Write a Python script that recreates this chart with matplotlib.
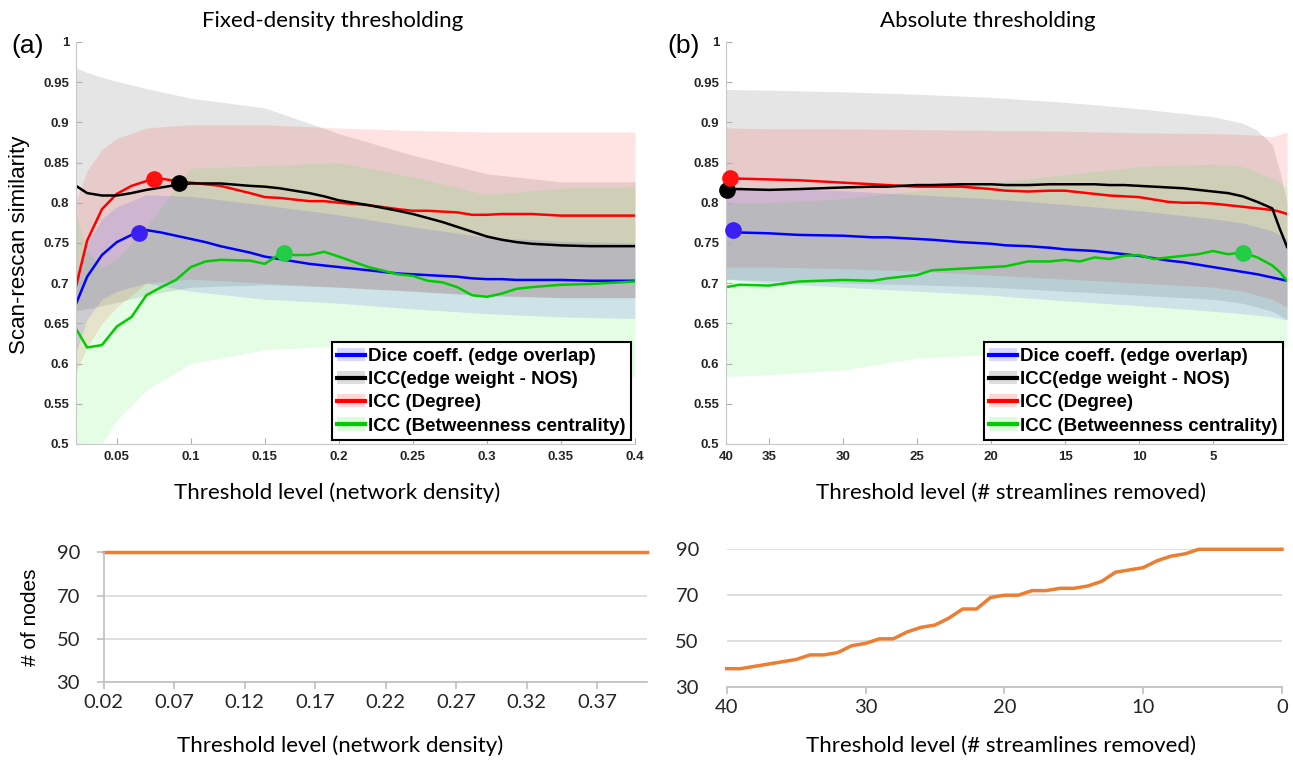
import numpy as np
import matplotlib
matplotlib.use("Agg")
import matplotlib.pyplot as plt
from matplotlib.patches import Patch
from matplotlib.lines import Line2D
from matplotlib.ticker import FormatStrFormatter

# ---- (a) fixed-density thresholding: mean curves
fd_x = [0.02, 0.03, 0.04, 0.05, 0.06, 0.07, 0.08, 0.09, 0.10, 0.11, 0.12, 0.14, 0.15, 0.16,
        0.17, 0.18, 0.19, 0.20, 0.22, 0.24, 0.25, 0.26, 0.27, 0.28, 0.29, 0.30, 0.31, 0.32,
        0.33, 0.35, 0.37, 0.40]
fd_dice = [0.663, 0.708, 0.735, 0.751, 0.760, 0.766, 0.763, 0.759, 0.755, 0.751, 0.746, 0.738,
           0.733, 0.730, 0.727, 0.724, 0.722, 0.720, 0.716, 0.712, 0.711, 0.710, 0.709, 0.708,
           0.706, 0.705, 0.705, 0.704, 0.704, 0.704, 0.703, 0.703]
fd_nos = [0.824, 0.812, 0.809, 0.809, 0.812, 0.816, 0.819, 0.822, 0.824, 0.824, 0.824, 0.821,
          0.820, 0.818, 0.815, 0.812, 0.808, 0.803, 0.797, 0.790, 0.786, 0.781, 0.776, 0.770,
          0.764, 0.758, 0.754, 0.751, 0.749, 0.747, 0.746, 0.746]
fd_deg = [0.677, 0.753, 0.792, 0.811, 0.821, 0.827, 0.830, 0.827, 0.825, 0.823, 0.821, 0.812,
          0.807, 0.806, 0.804, 0.802, 0.802, 0.800, 0.797, 0.792, 0.790, 0.790, 0.789, 0.788,
          0.785, 0.785, 0.786, 0.786, 0.786, 0.784, 0.784, 0.784]
fd_btw = [0.651, 0.620, 0.623, 0.646, 0.658, 0.685, 0.695, 0.704, 0.720, 0.727, 0.729, 0.728,
          0.724, 0.736, 0.735, 0.735, 0.739, 0.733, 0.720, 0.711, 0.709, 0.703, 0.701, 0.695,
          0.685, 0.683, 0.687, 0.693, 0.695, 0.698, 0.699, 0.702]
# peaks (x, y) for dice, nos, degree, betweenness
fd_peak_x = [0.065, 0.092, 0.075, 0.163]
fd_peak_y = [0.762, 0.824, 0.830, 0.737]

# (a) shaded ranges
fd_bx = [0.02, 0.03, 0.04, 0.05, 0.07, 0.10, 0.15, 0.20, 0.25, 0.30, 0.35, 0.40]
fd_nos_hi = [0.970, 0.962, 0.956, 0.951, 0.942, 0.930, 0.918, 0.886, 0.859, 0.836, 0.826, 0.826]
fd_nos_lo = [0.665, 0.668, 0.672, 0.676, 0.685, 0.695, 0.698, 0.695, 0.690, 0.684, 0.682, 0.682]
fd_deg_hi = [0.790, 0.840, 0.866, 0.880, 0.893, 0.897, 0.897, 0.893, 0.890, 0.888, 0.888, 0.888]
fd_deg_lo = [0.580, 0.620, 0.650, 0.670, 0.700, 0.705, 0.700, 0.695, 0.690, 0.685, 0.682, 0.682]
fd_btw_hi = [0.800, 0.740, 0.720, 0.730, 0.770, 0.843, 0.846, 0.850, 0.832, 0.810, 0.818, 0.820]
fd_btw_lo = [0.450, 0.470, 0.500, 0.530, 0.567, 0.600, 0.617, 0.622, 0.620, 0.610, 0.595, 0.584]
fd_dice_hi = [0.700, 0.750, 0.780, 0.795, 0.810, 0.808, 0.797, 0.785, 0.770, 0.757, 0.752, 0.750]
fd_dice_lo = [0.600, 0.655, 0.680, 0.690, 0.700, 0.690, 0.680, 0.675, 0.668, 0.662, 0.658, 0.656]

# ---- (b) absolute thresholding (streamlines removed)
ab_x = [37.9, 37, 35, 33, 30, 28, 27, 25, 24, 22, 20, 19, 17.5, 16, 15, 14, 13, 12, 11, 10,
        9, 8, 7, 6, 5, 4, 3, 2, 1, 0.5, 0]
ab_dice = [0.764, 0.763, 0.762, 0.760, 0.759, 0.757, 0.757, 0.755, 0.754, 0.751, 0.749, 0.747,
           0.746, 0.744, 0.742, 0.741, 0.740, 0.738, 0.736, 0.734, 0.731, 0.728, 0.726, 0.723,
           0.720, 0.717, 0.714, 0.711, 0.707, 0.705, 0.703]
ab_nos = [0.817, 0.817, 0.816, 0.817, 0.819, 0.820, 0.820, 0.822, 0.822, 0.823, 0.823, 0.822,
          0.822, 0.823, 0.823, 0.823, 0.823, 0.822, 0.822, 0.821, 0.820, 0.819, 0.818, 0.816,
          0.814, 0.812, 0.808, 0.801, 0.793, 0.768, 0.745]
ab_deg = [0.830, 0.830, 0.829, 0.828, 0.825, 0.823, 0.822, 0.820, 0.820, 0.820, 0.817, 0.815,
          0.814, 0.815, 0.815, 0.813, 0.811, 0.809, 0.808, 0.807, 0.804, 0.801, 0.800, 0.800,
          0.799, 0.797, 0.795, 0.793, 0.791, 0.789, 0.786]
ab_btw = [0.695, 0.698, 0.697, 0.702, 0.704, 0.703, 0.706, 0.710, 0.716, 0.718, 0.720, 0.721,
          0.727, 0.727, 0.729, 0.727, 0.732, 0.730, 0.734, 0.735, 0.730, 0.732, 0.734, 0.736,
          0.740, 0.736, 0.738, 0.732, 0.722, 0.714, 0.703]
ab_peak_x = [37.4, 37.8, 37.6, 3.0]
ab_peak_y = [0.766, 0.816, 0.831, 0.738]

ab_bx = [37.9, 35, 30, 25, 20, 15, 10, 5, 3, 2, 1, 0.5, 0]
ab_nos_hi = [0.941, 0.940, 0.938, 0.935, 0.931, 0.925, 0.917, 0.907, 0.899, 0.890, 0.872, 0.840, 0.800]
ab_nos_lo = [0.705, 0.703, 0.700, 0.698, 0.695, 0.690, 0.685, 0.680, 0.675, 0.670, 0.665, 0.660, 0.655]
ab_deg_hi = [0.893, 0.892, 0.892, 0.891, 0.890, 0.889, 0.887, 0.886, 0.885, 0.884, 0.882, 0.885, 0.888]
ab_deg_lo = [0.720, 0.720, 0.718, 0.715, 0.710, 0.705, 0.700, 0.695, 0.690, 0.685, 0.680, 0.675, 0.670]
ab_btw_hi = [0.800, 0.800, 0.805, 0.815, 0.825, 0.835, 0.845, 0.848, 0.845, 0.838, 0.830, 0.825, 0.820]
ab_btw_lo = [0.584, 0.586, 0.592, 0.607, 0.611, 0.613, 0.615, 0.620, 0.620, 0.620, 0.620, 0.620, 0.620]
ab_dice_hi = [0.820, 0.818, 0.815, 0.810, 0.805, 0.798, 0.790, 0.780, 0.775, 0.770, 0.765, 0.760, 0.755]
ab_dice_lo = [0.705, 0.700, 0.695, 0.690, 0.685, 0.678, 0.672, 0.665, 0.662, 0.660, 0.658, 0.656, 0.654]
ab_ticks = [37.9, 35, 30, 25, 20, 15, 10, 5]
ab_ticklabels = ['40', '35', '30', '25', '20', '15', '10', '5']

# ---- number of nodes
nd_density = [0.02, 0.03, 0.04, 0.05, 0.06, 0.07, 0.08, 0.09, 0.10, 0.11, 0.12, 0.13, 0.14,
              0.15, 0.16, 0.17, 0.18, 0.19, 0.20, 0.21, 0.22, 0.23, 0.24, 0.25, 0.26, 0.27,
              0.28, 0.29, 0.30, 0.31, 0.32, 0.33, 0.34, 0.35, 0.36, 0.37, 0.38, 0.39, 0.40, 0.405]
nd_density_nodes = [90, 90, 90, 90, 90, 90, 90, 90, 90, 90, 90, 90, 90, 90, 90, 90, 90, 90, 90,
                    90, 90, 90, 90, 90, 90, 90, 90, 90, 90, 90, 90, 90, 90, 90, 90, 90, 90, 90,
                    90, 90]
nd_removed = [40, 39, 38, 37, 36, 35, 34, 33, 32, 31, 30, 29, 28, 27, 26, 25, 24, 23, 22, 21,
              20, 19, 18, 17, 16, 15, 14, 13, 12, 11, 10, 9, 8, 7, 6, 5, 4, 3, 2, 1, 0]
nd_removed_nodes = [38, 38, 39, 40, 41, 42, 44, 44, 45, 48, 49, 51, 51, 54, 56, 57, 60, 64, 64,
                    69, 70, 70, 72, 72, 73, 73, 74, 76, 80, 81, 82, 85, 87, 88, 90, 90, 90, 90,
                    90, 90, 90]

labels = ['Dice coeff. (edge overlap)', 'ICC(edge weight - NOS)', 'ICC (Degree)',
          'ICC (Betweenness centrality)']
line_cols = ['#0000ff', '#000000', '#ff0000', '#00cc00']
peak_cols = ['#3a1ff0', '#000000', '#ff1010', '#22cc44']
band_cols = [(0, 0, 1), (0.45, 0.45, 0.45), (1, 0, 0), (0, 0.95, 0)]
band_alpha = [0.10, 0.18, 0.11, 0.10]

CAL = 'Lato'
ARIAL = 'Liberation Sans'

fig = plt.figure(figsize=(12.93, 7.61), dpi=100)


def top_panel(ax, x, lines, bx, bands, px, py):
    # shaded ranges: nos, degree, betweenness, dice
    for i in [1, 2, 3, 0]:
        lo, hi = bands[i]
        ax.fill_between(bx, lo, hi, color=band_cols[i], alpha=band_alpha[i], lw=0)
    for i in [0, 3, 2, 1]:
        ax.plot(x, lines[i], color=line_cols[i], lw=1.8)
    for i in range(4):
        ax.plot(px[i], py[i], 'o', color=peak_cols[i], ms=11, clip_on=False, zorder=5)
    ax.set_ylim(0.5, 1)
    ax.set_yticks(np.arange(0.5, 1.001, 0.05))
    ax.yaxis.set_major_formatter(FormatStrFormatter('%g'))
    for s in ['top', 'right']:
        ax.spines[s].set_visible(False)
    for s in ['left', 'bottom']:
        ax.spines[s].set_color('#c8c8c8')
    ax.tick_params(direction='in', length=4, color='#b0b0b0', labelsize=9.5,
                   labelcolor='#262626', pad=5)
    for t in ax.get_xticklabels() + ax.get_yticklabels():
        t.set_fontweight('bold')
        t.set_fontfamily(ARIAL)
    handles = [(Patch(facecolor=band_cols[i], alpha=band_alpha[i] + 0.05, lw=0),
                Line2D([], [], color=line_cols[i], lw=3)) for i in range(4)]
    leg = ax.legend(handles, labels, loc='lower right', bbox_to_anchor=(1.0, 0.0),
                    borderaxespad=0.2, fancybox=False, framealpha=1, edgecolor='black',
                    handlelength=1.5, handletextpad=0.15, borderpad=0.3, labelspacing=0.32,
                    prop={'family': ARIAL, 'weight': 'bold', 'size': 13.5})
    leg.get_frame().set_linewidth(1.5)


ax1 = fig.add_axes([0.0588, 0.4166, 0.4323, 0.5283])
top_panel(ax1, fd_x, [fd_dice, fd_nos, fd_deg, fd_btw], fd_bx,
          [(fd_dice_lo, fd_dice_hi), (fd_nos_lo, fd_nos_hi), (fd_deg_lo, fd_deg_hi),
           (fd_btw_lo, fd_btw_hi)], fd_peak_x, fd_peak_y)
ax1.set_xlim(0.0225, 0.4)
ax1.set_xticks(np.arange(0.05, 0.401, 0.05))
ax1.xaxis.set_major_formatter(FormatStrFormatter('%g'))
for t in ax1.get_xticklabels():
    t.set_fontweight('bold')
    t.set_fontfamily(ARIAL)

ax2 = fig.add_axes([0.5615, 0.4166, 0.4339, 0.5283])
top_panel(ax2, ab_x, [ab_dice, ab_nos, ab_deg, ab_btw], ab_bx,
          [(ab_dice_lo, ab_dice_hi), (ab_nos_lo, ab_nos_hi), (ab_deg_lo, ab_deg_hi),
           (ab_btw_lo, ab_btw_hi)], ab_peak_x, ab_peak_y)
ax2.set_xlim(37.9, 0)
ax2.set_xticks(ab_ticks)
ax2.set_xticklabels(ab_ticklabels, fontweight='bold', fontfamily=ARIAL)

fig.text(0.257, 0.972, 'Fixed-density thresholding', ha='center', va='center',
         fontsize=16, family=CAL)
fig.text(0.764, 0.972, 'Absolute thresholding', ha='center', va='center',
         fontsize=16, family=CAL)
fig.text(0.009, 0.94, '(a)', ha='left', va='center', fontsize=19, family=ARIAL)
fig.text(0.516, 0.94, '(b)', ha='left', va='center', fontsize=19, family=ARIAL)
fig.text(0.015, 0.678, 'Scan-rescan similarity', rotation=90, ha='center', va='center',
         fontsize=16, family=ARIAL)
fig.text(0.261, 0.353, 'Threshold level (network density)', ha='center', va='center',
         fontsize=16, family=CAL)
fig.text(0.782, 0.353, 'Threshold level (# streamlines removed)', ha='center', va='center',
         fontsize=16, family=CAL)

orange = '#ed7d31'


def bottom_panel(ax):
    ax.set_ylim(30, 90)
    ax.set_yticks([30, 50, 70, 90])
    ax.grid(axis='y', color='#d9d9d9', lw=1.2)
    ax.set_axisbelow(True)
    for s in ['top', 'right']:
        ax.spines[s].set_visible(False)
    for s in ['left', 'bottom']:
        ax.spines[s].set_color('#bfbfbf')
        ax.spines[s].set_linewidth(1.2)
    ax.tick_params(direction='out', length=5, color='#bfbfbf', labelsize=14.5,
                   labelcolor='#262626', width=1.2)
    for t in ax.get_xticklabels() + ax.get_yticklabels():
        t.set_fontfamily(CAL)


ax3 = fig.add_axes([0.0801, 0.1034, 0.4199, 0.1708])
ax3.plot(nd_density, nd_density_nodes, color=orange, lw=2.5, clip_on=False)
ax3.set_xlim(0.02, 0.405)
ax3.set_xticks(np.arange(0.02, 0.38, 0.05))
ax3.xaxis.set_major_formatter(FormatStrFormatter('%.2f'))
bottom_panel(ax3)
ax3.tick_params(axis='y', pad=12)
ax3.set_ylabel('# of nodes', fontsize=15, family=ARIAL, labelpad=12)

ax4 = fig.add_axes([0.562, 0.0972, 0.4295, 0.181])
ax4.plot(nd_removed, nd_removed_nodes, color=orange, lw=2.5, clip_on=False)
ax4.set_xlim(40, 0)
ax4.set_xticks([40, 30, 20, 10, 0])
bottom_panel(ax4)
ax4.spines['left'].set_visible(False)
ax4.tick_params(axis='y', length=0, pad=20)

fig.text(0.263, 0.02, 'Threshold level (network density)', ha='center', va='center',
         fontsize=16, family=CAL)
fig.text(0.774, 0.02, 'Threshold level (# streamlines removed)', ha='center', va='center',
         fontsize=16, family=CAL)

fig.savefig('out.png', dpi=100)
